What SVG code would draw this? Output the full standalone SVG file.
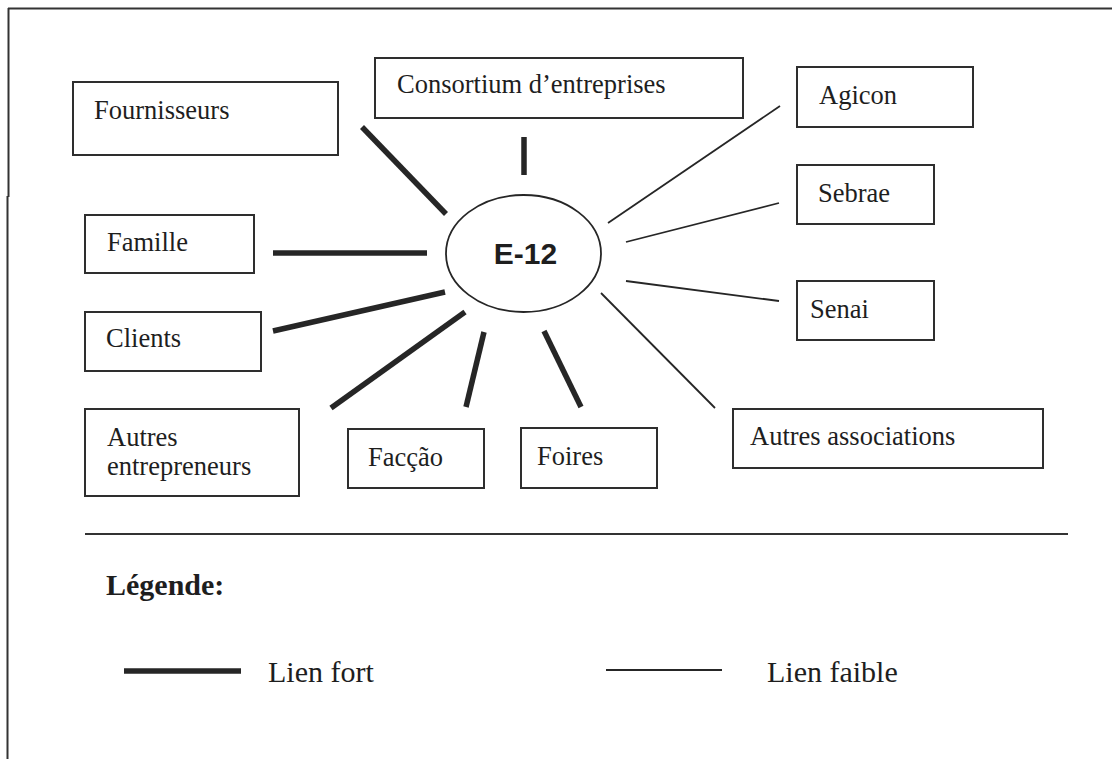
<svg xmlns="http://www.w3.org/2000/svg" width="1112" height="759" viewBox="0 0 1112 759">
  <style>
    .box { fill: #ffffff; stroke: #2e2e2e; stroke-width: 2; }
    .lbl { font-family: "Liberation Serif", "Times New Roman", serif; font-size: 26.5px; fill: #1e1e1e; }
    .strong { stroke: #262626; stroke-width: 5.5; stroke-linecap: butt; fill: none; }
    .weak { stroke: #262626; stroke-width: 1.8; stroke-linecap: butt; fill: none; }
    .frame { stroke: #333333; stroke-width: 2; fill: none; }
    .legend { font-family: "Liberation Serif", "Times New Roman", serif; font-size: 30px; fill: #1e1e1e; }
  </style>
  <rect width="1112" height="759" fill="#ffffff"/>

  <!-- page frame -->
  <g id="frame">
    <line class="frame" x1="8" y1="8.5" x2="1112" y2="8.5"/>
    <line class="frame" x1="8.5" y1="8" x2="8.5" y2="197"/>
    <line class="frame" x1="7.5" y1="196" x2="7.5" y2="759"/>
  </g>

  <!-- connectors -->
  <g id="connectors">
    <line class="strong" x1="524" y1="137" x2="524" y2="175"/>
    <line class="strong" x1="362" y1="127" x2="446" y2="214"/>
    <line class="strong" x1="273" y1="253" x2="427" y2="253"/>
    <line class="strong" x1="273" y1="331" x2="445" y2="292"/>
    <line class="strong" x1="331" y1="408" x2="465" y2="312"/>
    <line class="strong" x1="466" y1="407" x2="484" y2="332"/>
    <line class="strong" x1="544" y1="331" x2="581" y2="407"/>
    <line class="weak" x1="608" y1="223" x2="780" y2="106"/>
    <line class="weak" x1="626" y1="242" x2="779" y2="203"/>
    <line class="weak" x1="626" y1="281" x2="779" y2="301"/>
    <line class="weak" x1="601" y1="293" x2="715" y2="408"/>
  </g>

  <!-- centre node -->
  <g id="e12">
    <ellipse cx="523.5" cy="253.5" rx="77.5" ry="58.5" fill="#ffffff" stroke="#262626" stroke-width="1.8"/>
    <text x="525.5" y="264" text-anchor="middle" font-family="'Liberation Sans', Arial, sans-serif" font-weight="bold" font-size="30" fill="#1e1e1e">E-12</text>
  </g>

  <g id="fournisseurs">
    <rect class="box" x="73" y="82" width="265" height="73"/>
    <text class="lbl" x="94" y="119">Fournisseurs</text>
  </g>
  <g id="consortium">
    <rect class="box" x="375" y="58" width="368" height="60"/>
    <text class="lbl" x="397" y="93">Consortium d’entreprises</text>
  </g>
  <g id="agicon">
    <rect class="box" x="797" y="67" width="176" height="60"/>
    <text class="lbl" x="819" y="104">Agicon</text>
  </g>
  <g id="sebrae">
    <rect class="box" x="797" y="165" width="137" height="59"/>
    <text class="lbl" x="818" y="202">Sebrae</text>
  </g>
  <g id="senai">
    <rect class="box" x="797" y="281" width="137" height="59"/>
    <text class="lbl" x="810" y="318">Senai</text>
  </g>
  <g id="famille">
    <rect class="box" x="85" y="215" width="169" height="58"/>
    <text class="lbl" x="107" y="251">Famille</text>
  </g>
  <g id="clients">
    <rect class="box" x="85" y="312" width="176" height="59"/>
    <text class="lbl" x="106" y="347">Clients</text>
  </g>
  <g id="autres-entrepreneurs">
    <rect class="box" x="85" y="409" width="214" height="87"/>
    <text class="lbl" x="107" y="446">Autres</text>
    <text class="lbl" x="107" y="475">entrepreneurs</text>
  </g>
  <g id="faccao">
    <rect class="box" x="348" y="429" width="136" height="59"/>
    <text class="lbl" x="368" y="466">Facção</text>
  </g>
  <g id="foires">
    <rect class="box" x="521" y="428" width="136" height="60"/>
    <text class="lbl" x="537" y="465">Foires</text>
  </g>
  <g id="autres-associations">
    <rect class="box" x="733" y="409" width="310" height="59"/>
    <text class="lbl" x="750" y="445">Autres associations</text>
  </g>

  <!-- legend -->
  <g id="legend">
    <line x1="85" y1="534" x2="1068" y2="534" stroke="#333333" stroke-width="2"/>
    <text class="legend" x="106" y="595" font-weight="bold">Légende:</text>
    <line class="strong" x1="124" y1="671" x2="241" y2="671"/>
    <text class="legend" x="268" y="682">Lien fort</text>
    <line class="weak" x1="606" y1="670" x2="722" y2="670"/>
    <text class="legend" x="767" y="682">Lien faible</text>
  </g>
</svg>
